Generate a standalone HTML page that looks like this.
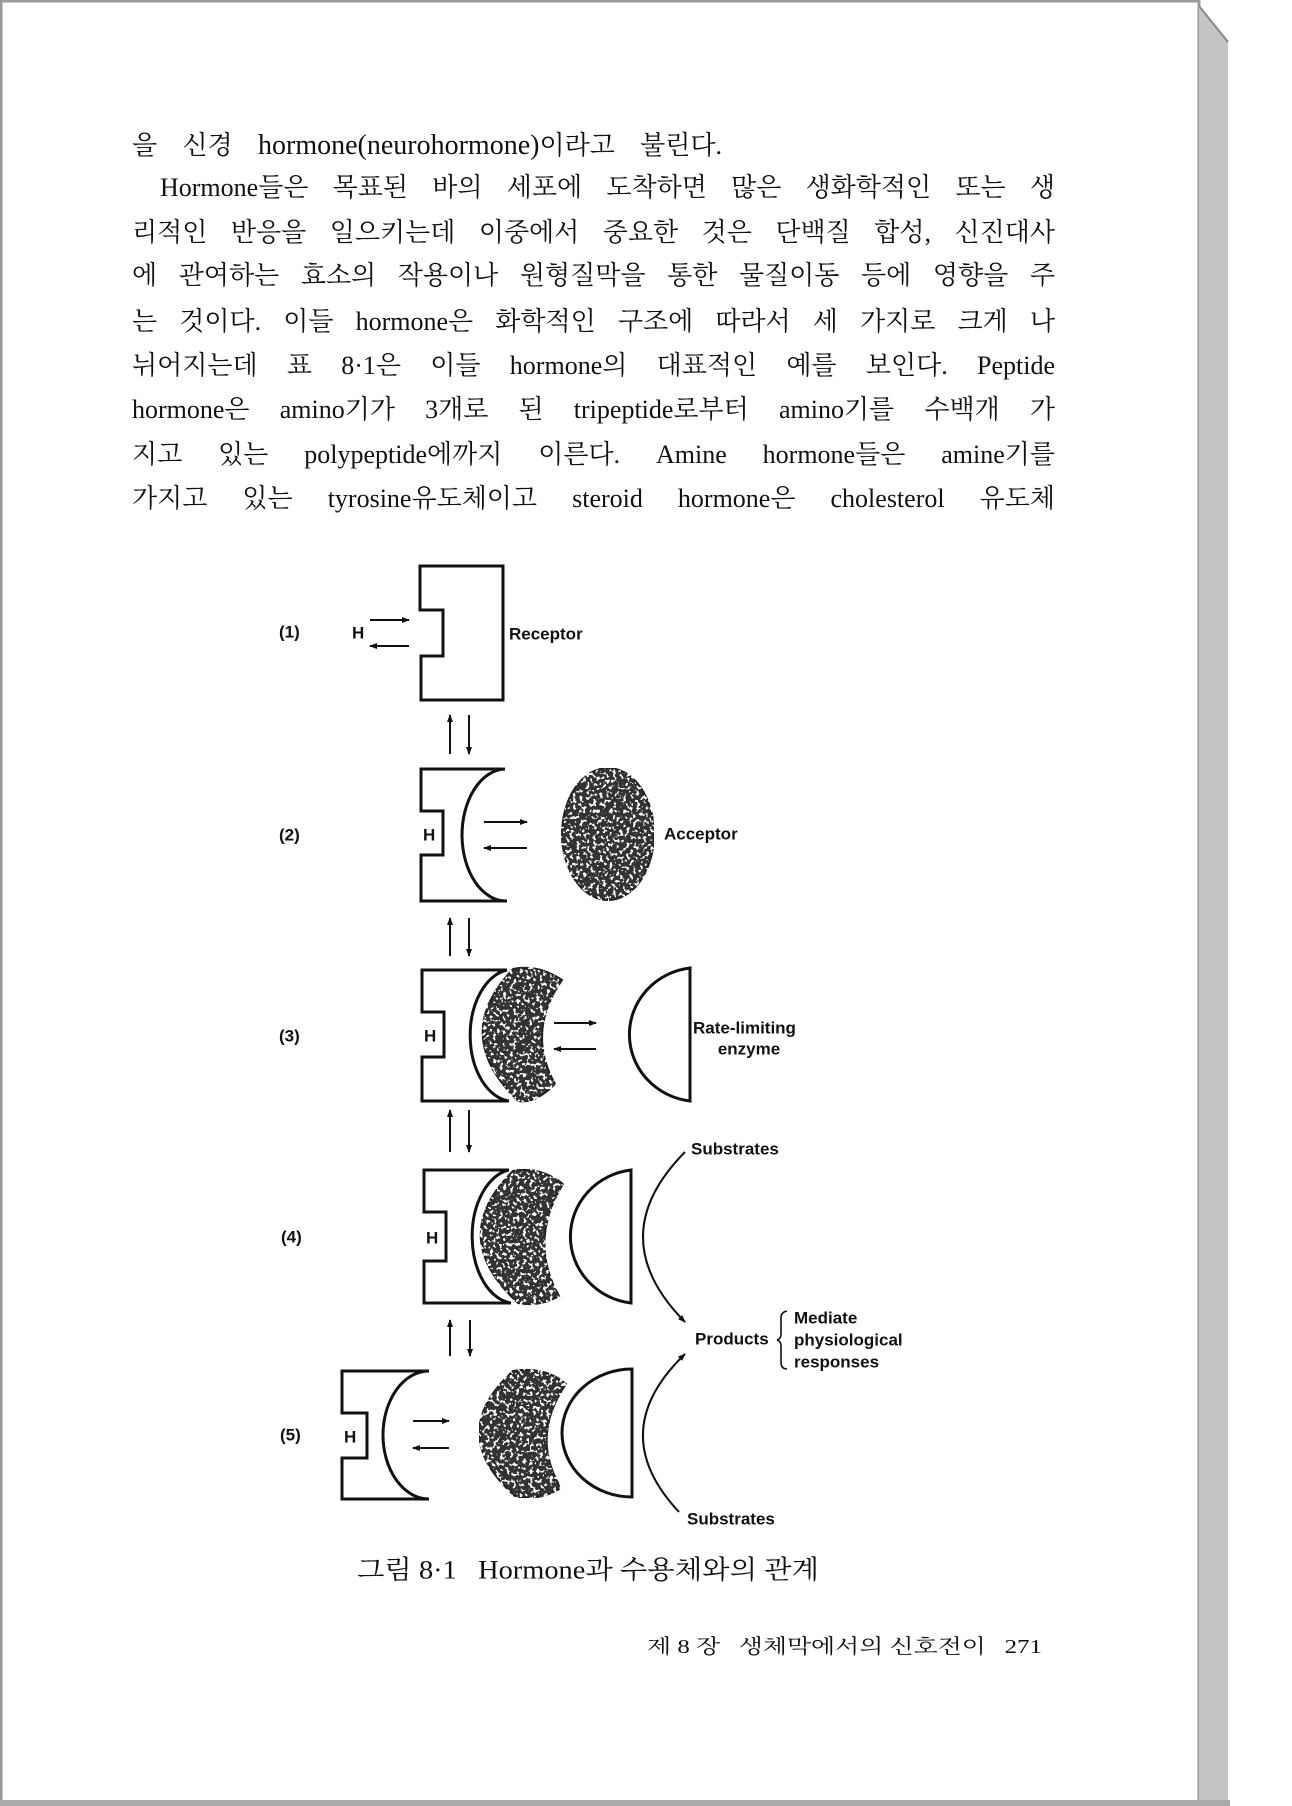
<!DOCTYPE html>
<html><head><meta charset="utf-8"><style>
html,body{margin:0;padding:0;background:#fff;}
body{width:1292px;height:1806px;position:relative;overflow:hidden;}
.ln{position:absolute;left:132px;width:923px;height:40px;line-height:40px;font-family:"Liberation Serif","Noto Serif CJK KR","NanumGothic",serif;font-size:26px;color:#111;text-align:justify;text-align-last:justify;overflow:hidden;white-space:nowrap;}
.ln b{font-weight:normal;font-size:28px;}
svg{position:absolute;left:0;top:0;}
</style></head><body>
<svg width="1292" height="1806" viewBox="0 0 1292 1806" xmlns="http://www.w3.org/2000/svg">
<defs>
<marker id="ah" markerWidth="8" markerHeight="6" refX="7" refY="3" orient="auto" markerUnits="userSpaceOnUse"><path d="M0,0 L8,3 L0,6 Z" fill="#111"/></marker>
<filter id="spk" x="0" y="0" width="100%" height="100%">
<feTurbulence type="fractalNoise" baseFrequency="0.3" numOctaves="2" seed="3" result="n"/>
<feColorMatrix in="n" type="matrix" values="0 0 0 0 1  0 0 0 0 1  0 0 0 0 1  0 0 0 -14 6" result="w"/>
<feComposite in="w" in2="SourceGraphic" operator="in" result="wi"/>
<feMerge><feMergeNode in="SourceGraphic"/><feMergeNode in="wi"/></feMerge>
</filter>
</defs>
<rect x="1" y="1" width="1198" height="1802" fill="none" stroke="#9a9a9a" stroke-width="3"/>
<path d="M1199,6 L1228,42 L1228,1806 L1199,1806 Z" fill="#c4c4c4"/>
<line x1="1199" y1="6" x2="1228" y2="42" stroke="#888" stroke-width="2"/>
<rect x="0" y="1800" width="1230" height="6" fill="#aaa"/>

<g fill="none" stroke="#111" stroke-width="3">
<path d="M420,566 L503,566 L503,700 L421,700 L421,656 L443,656 L443,610 L420,610 Z"/>
<path d="M503,769 L421,769 L421,811 L443,811 L443,855 L421,855 L421,901 L507,901"/>
<path d="M505,769 A44,66 0 0 0 507,901"/>
<path d="M507,970 L422,970 L422,1012 L444,1012 L444,1057 L422,1057 L422,1101 L509,1101"/>
<path d="M507,970 A43,66 0 0 0 509,1101"/>
<path d="M509,1170 L424,1170 L424,1212 L446,1212 L446,1261 L424,1261 L424,1303 L511,1303"/>
<path d="M509,1170 A43,67 0 0 0 511,1303"/>
<path d="M429,1371 L342,1371 L342,1413 L367,1413 L367,1458 L342,1458 L342,1499 L429,1499"/>
<path d="M429,1371 A46,64 0 0 0 429,1499"/>
<path d="M690,968 L690,1101 A69,67 0 0 1 690,968 Z"/>
<path d="M631,1170 L631,1303 A69,67 0 0 1 631,1170 Z"/>
<path d="M632,1369 L632,1497 A70,64 0 0 1 632,1369 Z"/>
</g>

<g fill="#333" stroke="#222" stroke-width="2" filter="url(#spk)">
<ellipse cx="608" cy="834" rx="46" ry="66"/>
<path d="M513,969 Q538,964 562,980 Q526,1032 555,1084 Q535,1104 518,1101 Q450,1035 513,969 Z"/>
<path d="M513,1171 Q540,1166 563,1184 Q528,1241 559,1296 Q540,1307 518,1303 Q446,1237 513,1171 Z"/>
<path d="M513,1371 Q545,1366 566,1384 Q530,1437 561,1488 Q540,1501 516,1497 Q444,1434 513,1371 Z"/>
</g>

<g stroke="#111" stroke-width="2" fill="none" marker-end="url(#ah)">
<line x1="370" y1="620" x2="409" y2="620"/>
<line x1="409" y1="646" x2="370" y2="646"/>
<line x1="484" y1="822" x2="527" y2="822"/>
<line x1="527" y1="848" x2="484" y2="848"/>
<line x1="554" y1="1023" x2="596" y2="1023"/>
<line x1="596" y1="1049" x2="554" y2="1049"/>
<line x1="413" y1="1421" x2="449" y2="1421"/>
<line x1="449" y1="1448" x2="413" y2="1448"/>
<line x1="450" y1="754" x2="450" y2="715"/>
<line x1="469" y1="715" x2="469" y2="754"/>
<line x1="450" y1="956" x2="450" y2="918"/>
<line x1="469" y1="918" x2="469" y2="956"/>
<line x1="450" y1="1152" x2="450" y2="1110"/>
<line x1="469" y1="1110" x2="469" y2="1152"/>
<line x1="450" y1="1356" x2="450" y2="1320"/>
<line x1="470" y1="1320" x2="470" y2="1356"/>
<path d="M685,1152 Q601,1237 685,1322"/>
<path d="M679,1512 Q604,1432 685,1354"/>
</g>
<path d="M787,1311 Q781,1312 781,1318 L781,1334 Q781,1339 777,1340 Q781,1341 781,1346 L781,1362 Q781,1369 787,1369" fill="none" stroke="#111" stroke-width="1.6"/>

<g font-family="Liberation Sans, sans-serif" font-weight="bold" font-size="17" fill="#111" dominant-baseline="central">
<text x="279" y="632">(1)</text>
<text x="352" y="633">H</text>
<text x="509" y="634">Receptor</text>
<text x="279" y="835">(2)</text>
<text x="423" y="835">H</text>
<text x="664" y="834">Acceptor</text>
<text x="279" y="1036">(3)</text>
<text x="424" y="1036">H</text>
<text x="693" y="1028">Rate-limiting</text>
<text x="749" y="1049" text-anchor="middle">enzyme</text>
<text x="691" y="1149">Substrates</text>
<text x="281" y="1237">(4)</text>
<text x="426" y="1238">H</text>
<text x="695" y="1339">Products</text>
<text x="794" y="1318">Mediate</text>
<text x="794" y="1340">physiological</text>
<text x="794" y="1362">responses</text>
<text x="280" y="1435">(5)</text>
<text x="344" y="1437">H</text>
<text x="687" y="1519">Substrates</text>
</g>
<text x="357" y="1570" dominant-baseline="central" font-family="Liberation Serif, 'Noto Serif CJK KR', serif" font-size="26" fill="#111" textLength="462" lengthAdjust="spacingAndGlyphs">그림 8·1&#160;&#160; Hormone과 수용체와의 관계</text>
<text x="647" y="1647" dominant-baseline="central" font-family="Liberation Serif, 'Noto Serif CJK KR', serif" font-size="20" fill="#111" textLength="395" lengthAdjust="spacingAndGlyphs">제 8 장&#160;&#160; 생체막에서의 신호전이&#160;&#160; 271</text>
</svg>

<div class="ln" style="top:126px;width:590px;">을 신경 <b>hormone(neurohormone)</b>이라고 불린다.</div>
<div class="ln" style="top:168px;left:160px;width:895px;">Hormone들은 목표된 바의 세포에 도착하면 많은 생화학적인 또는 생</div>
<div class="ln" style="top:213px;">리적인 반응을 일으키는데 이중에서 중요한 것은 단백질 합성, 신진대사</div>
<div class="ln" style="top:256px;">에 관여하는 효소의 작용이나 원형질막을 통한 물질이동 등에 영향을 주</div>
<div class="ln" style="top:302px;">는 것이다. 이들 hormone은 화학적인 구조에 따라서 세 가지로 크게 나</div>
<div class="ln" style="top:346px;">뉘어지는데 표 8·1은 이들 hormone의 대표적인 예를 보인다. Peptide</div>
<div class="ln" style="top:390px;">hormone은 amino기가 3개로 된 tripeptide로부터 amino기를 수백개 가</div>
<div class="ln" style="top:435px;">지고 있는 polypeptide에까지 이른다. Amine hormone들은 amine기를</div>
<div class="ln" style="top:479px;">가지고 있는 tyrosine유도체이고 steroid hormone은 cholesterol 유도체</div>
</body></html>
